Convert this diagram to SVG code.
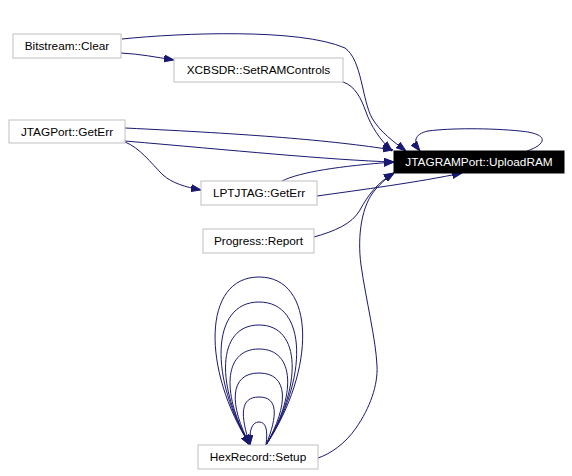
<svg xmlns="http://www.w3.org/2000/svg" width="572" height="476" viewBox="0 0 572 476">
<style>
.node rect{fill:#ffffff;stroke:#bfbfbf;stroke-width:1}
.node text{font-family:"Liberation Sans",Arial,sans-serif;font-size:11.8px;fill:#000000;text-anchor:middle}
.root rect{fill:#000000;stroke:#000000}
.root text{fill:#ffffff}
.edges path{fill:none;stroke:#191970;stroke-width:1;marker-end:url(#arr)}
</style>
<defs>
<marker id="arr" markerUnits="userSpaceOnUse" markerWidth="10" markerHeight="8" refX="10" refY="3.5" orient="auto" viewBox="0 0 10 7">
<path d="M0,0 L10,3.5 L0,7 z" fill="#191970" stroke="#191970" stroke-width="1"/>
</marker>
</defs>
<rect width="572" height="476" fill="#ffffff"/>
<g class="edges" id="edges">
<path d="M121,53 C140,54 155,57 174,60"/>
<path d="M122,39 C180,33 300,28 345,48 C362,60 362,100 372,118 C380,132 394,142 406,151"/>
<path d="M343,82 C355,86 361,98 366,112 C371,126 380,140 392,151"/>
<path d="M125,128 C250,134 330,140 393,150"/>
<path d="M125,141 C230,150 330,160 394,162"/>
<path d="M125,142 C140,148 150,162 163,175 C172,183 185,187 201,190"/>
<path d="M282,181 C300,172 340,166 394,162"/>
<path d="M317,196 C360,190 420,182 462,173"/>
<path d="M314,237 C335,231 352,224 360,210 C368,195 378,182 394,173"/>
<path d="M318,458 C330,454 345,444 356,428 C370,408 378,385 377,366 C376,340 366,300 361,265 C357,235 362,205 375,190 C382,182 388,177 394,173"/>
<path d="M527,151 C545,145 552,134 520,131 C490,128 450,128 428,131 C414,134 413,142 420,151"/>
<path d="M266,445 C316,370 316,277 259,277 C202,277 202,370 250,445"/>
<path d="M266,445 C308,380 308,302 259,302 C210,302 210,380 250,445"/>
<path d="M266,445 C302,388 302,325 259,325 C216,325 216,388 250,445"/>
<path d="M266,445 C296,397 296,349 259,349 C222,349 222,397 250,445"/>
<path d="M266,445 C289,405 289,373 259,373 C229,373 229,405 250,445"/>
<path d="M266,445 C278,415 278,397 259,397 C240,397 240,415 250,445"/>
<path d="M266,445 C268,430 266,422 259,422 C252,422 249,430 250,445"/>
</g>
<g class="node" id="node-bitstream-clear"><rect x="13" y="34" width="108" height="24"/><text x="67" y="50">Bitstream::Clear</text></g>
<g class="node" id="node-xcbsdr-setramcontrols"><rect x="174" y="58" width="169" height="24"/><text x="258.5" y="74">XCBSDR::SetRAMControls</text></g>
<g class="node" id="node-jtagport-geterr"><rect x="9" y="120" width="116" height="23"/><text x="67" y="136">JTAGPort::GetErr</text></g>
<g class="node" id="node-lptjtag-geterr"><rect x="201" y="181" width="116" height="24"/><text x="259" y="197">LPTJTAG::GetErr</text></g>
<g class="node" id="node-progress-report"><rect x="203" y="229" width="111" height="24"/><text x="258.5" y="245">Progress::Report</text></g>
<g class="node" id="node-hexrecord-setup"><rect x="198" y="445" width="120" height="24"/><text x="258" y="461">HexRecord::Setup</text></g>
<g class="node root" id="node-jtagramport-uploadram"><rect x="394" y="151" width="170" height="22"/><text x="479" y="166">JTAGRAMPort::UploadRAM</text></g>
</svg>
